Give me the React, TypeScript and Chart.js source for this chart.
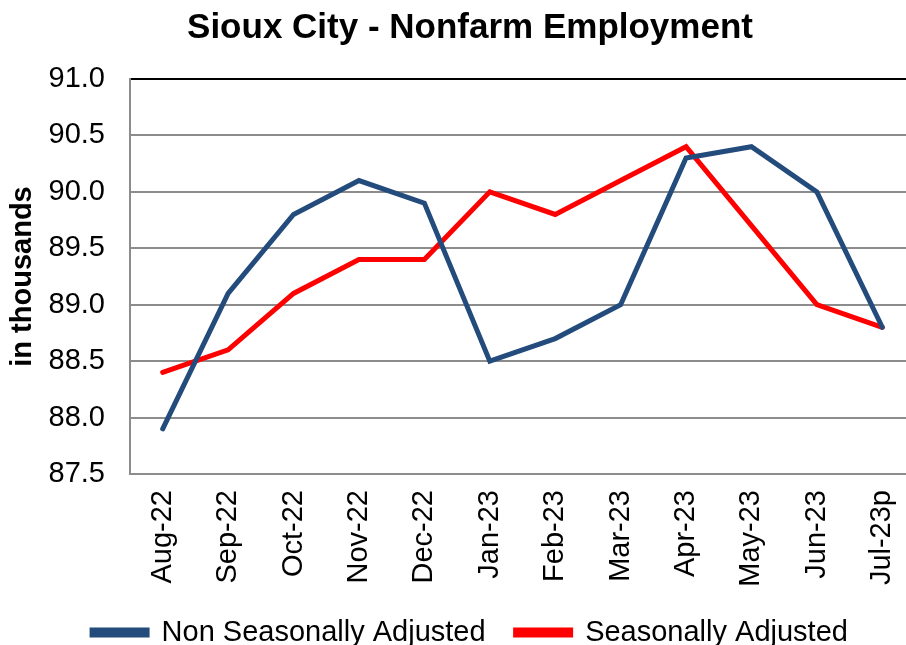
import React, { useEffect, useRef } from "react";
import { Chart, registerables } from "chart.js";

Chart.register(...registerables);

const categories = ["Aug-22", "Sep-22", "Oct-22", "Nov-22", "Dec-22", "Jan-23", "Feb-23", "Mar-23", "Apr-23", "May-23", "Jun-23", "Jul-23p"];
const nonSeasonallyAdjusted = [87.9, 89.1, 89.8, 90.1, 89.9, 88.5, 88.7, 89.0, 90.3, 90.4, 90.0, 88.8];
const seasonallyAdjusted = [88.4, 88.6, 89.1, 89.4, 89.4, 90.0, 89.8, 90.1, 90.4, 89.7, 89.0, 88.8];
const yMin = 87.5;
const yMax = 91.0;
const yStep = 0.5;

const FONT = "'Liberation Sans', Arial, sans-serif";

export default function App() {
  const ref = useRef<HTMLCanvasElement | null>(null);
  useEffect(() => {
    document.body.style.overflow = "hidden";
    const canvas = ref.current;
    if (!canvas) return;
    const chart = new Chart(canvas, {
      type: "line",
      data: {
        labels: categories,
        datasets: [
          {
            label: "Non Seasonally Adjusted",
            data: nonSeasonallyAdjusted,
            borderColor: "#234C7D",
            backgroundColor: "#234C7D",
            borderWidth: 5,
            pointRadius: 0,
            tension: 0,
            borderCapStyle: "round",
            borderJoinStyle: "miter",
          },
          {
            label: "Seasonally Adjusted",
            data: seasonallyAdjusted,
            borderColor: "#FF0000",
            backgroundColor: "#FF0000",
            borderWidth: 5,
            pointRadius: 0,
            tension: 0,
            borderCapStyle: "round",
            borderJoinStyle: "miter",
          },
        ],
      },
      options: {
        animation: false,
        responsive: false,
        maintainAspectRatio: false,
        layout: { padding: 0 },
        plugins: {
          title: {
            display: true,
            text: "Sioux City - Nonfarm Employment",
            color: "#000",
            font: { family: FONT, size: 35, weight: "bold" },
            padding: { top: 7, bottom: 30 },
          },
          legend: {
            display: true,
            position: "bottom",
            maxHeight: 78,
            labels: {
              color: "#000",
              font: { family: FONT, size: 29 },
              boxWidth: 55,
              boxHeight: 5,
              padding: 30,
            },
          },
          tooltip: { enabled: false },
        },
        scales: {
          x: {
            offset: true,
            grid: { display: false, drawTicks: false },
            border: { display: true, color: "#8c8c8c", width: 2 },
            ticks: {
              color: "#000",
              font: { family: FONT, size: 29 },
              minRotation: 90,
              maxRotation: 90,
              padding: 16,
              autoSkip: false,
            },
            afterFit: (scale: any) => {
              scale.height = 114;
            },
          },
          y: {
            min: yMin,
            max: yMax,
            grid: {
              drawTicks: false,
              color: (ctx: any) => (ctx.tick && ctx.tick.value === yMax ? "#000" : "#8c8c8c"),
              lineWidth: 2,
            },
            border: { display: true, color: "#8c8c8c", width: 2 },
            ticks: {
              stepSize: yStep,
              color: "#000",
              font: { family: FONT, size: 29 },
              padding: 25,
              callback: (v: any) => Number(v).toFixed(1),
            },
            title: {
              display: true,
              text: "in thousands",
              color: "#000",
              font: { family: FONT, size: 29, weight: "bold" },
              padding: { top: 6, bottom: 10 },
            },
            afterFit: (scale: any) => {
              scale.width = 130;
            },
          },
          yRight: {
            position: "right",
            display: true,
            min: yMin,
            max: yMax,
            grid: { display: false, drawTicks: false },
            border: { display: false },
            ticks: { display: false },
            afterFit: (scale: any) => {
              scale.width = 25;
            },
          },
        },
      },
    });
    return () => chart.destroy();
  }, []);
  return (
    <div style={{ position: "absolute", left: 0, top: 0, width: 940, height: 657 }}>
      <canvas ref={ref} width={940} height={657} style={{ display: "block" }} />
    </div>
  );
}
